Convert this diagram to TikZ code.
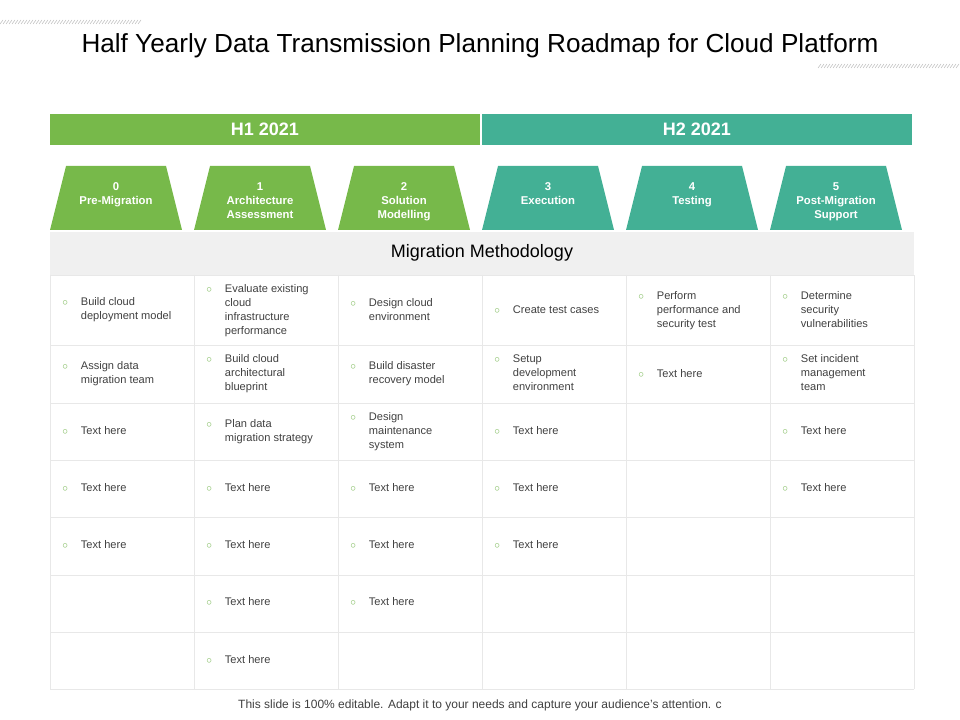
\documentclass[tikz,border=0pt]{standalone}
\usepackage{fontspec}
\usepackage{array}
\setmainfont{Liberation Sans}
\definecolor{gr}{HTML}{77B94A}
\definecolor{tl}{HTML}{43B095}
\definecolor{bul}{HTML}{8DC26F}
\definecolor{ln}{HTML}{E8E8E8}
\begin{document}
\begin{tikzpicture}[x=0.75pt,y=-0.75pt,
  bar/.style={font=\bfseries\fontsize{13.5}{15}\selectfont,text=white},
  ph/.style={font=\bfseries\fontsize{8.5}{10.5}\selectfont,text=white,align=center},
  cell/.style={anchor=west,inner sep=0pt,font=\fontsize{8.3}{10.5}\selectfont,text=black!75}]
\useasboundingbox (0,0) rectangle (960,720);
% hatches
\foreach \i in {0,3,...,140}{\draw[black!25,line width=0.4pt] (\i,24) -- (\i+3,20);}
\foreach \i in {818,821,...,958}{\draw[black!25,line width=0.4pt] (\i,68) -- (\i+3,64);}
\node (title) at (480,46) {\fontsize{19.6}{22}\selectfont Half Yearly Data Transmission Planning Roadmap for Cloud Platform};
% bars
\fill[gr] (50,114) rectangle (480,145);
\fill[tl] (482,114) rectangle (912,145);
\node[bar] (h1) at (265,129.5) {H1 2021};
\node[bar] (h2) at (697,129.5) {H2 2021};
% header grey
\fill[black!6] (50,232) rectangle (914,275);
\node (mm) at (482,253) {\fontsize{13.5}{15}\selectfont Migration Methodology};
% trapezoids
\foreach \k/\c/\t in {0/gr/{0\\Pre-Migration},1/gr/{1\\Architecture\\Assessment},2/gr/{2\\Solution\\Modelling},3/tl/{3\\Execution},4/tl/{4\\Testing},5/tl/{5\\Post-Migration\\Support}}{
  \pgfmathsetmacro{\xa}{50+144*\k}
  \fill[\c] (\xa,230) -- (\xa+16,166) -- (\xa+116,166) -- (\xa+132,230) -- cycle;
  \node[ph,anchor=north] (p\k) at (\xa+66,178) {\t};
}
% grid
\foreach \y in {275,345,403,460,517,575,632,689} \draw[ln] (50,\y) -- (914,\y);
\foreach \x in {50,194,338,482,626,770,914} \draw[ln] (\x,275) -- (\x,689);
% cells
\newcommand{\cellt}[3]{\node[cell] at (#1+12,#2) {\begin{tabular}{@{}p{14pt}@{}>{\raggedright\arraybackslash}p{82pt}@{}}\textcolor{bul}{$\circ$} & #3\end{tabular}};}
\def\th{Text here}
\def\n{\newline}
\foreach \x/\y/\t in {
 50/310/{Build cloud\n deployment model},
 194/311/{Evaluate existing\n cloud\n infrastructure\n performance},
 338/311/{Design cloud\n environment},
 482/311/{Create test cases},
 626/311/{Perform\n performance and\n security test},
 770/311/{Determine\n security\n vulnerabilities},
 50/374/{Assign data\n migration team},
 194/374/{Build cloud\n architectural\n blueprint},
 338/374/{Build disaster\n recovery model},
 482/374/{Setup\n development\n environment},
 626/375/{\th},
 770/374/{Set incident\n management\n team},
 50/432/{\th},194/432/{Plan data\n migration strategy},338/432/{Design\n maintenance\n system},482/432/{\th},770/432/{\th},
 50/489/{\th},194/489/{\th},338/489/{\th},482/489/{\th},770/489/{\th},
 50/546/{\th},194/546/{\th},338/546/{\th},482/546/{\th},
 194/603/{\th},338/603/{\th},
 194/661/{\th}}{\cellt{\x}{\y}{\t}}
\node (foot) at (480,705) {\fontsize{9}{10}\selectfont\color{black!75} This slide is 100\% editable. Adapt it to your needs and capture your audience's attention. c};
\end{tikzpicture}
\end{document}
